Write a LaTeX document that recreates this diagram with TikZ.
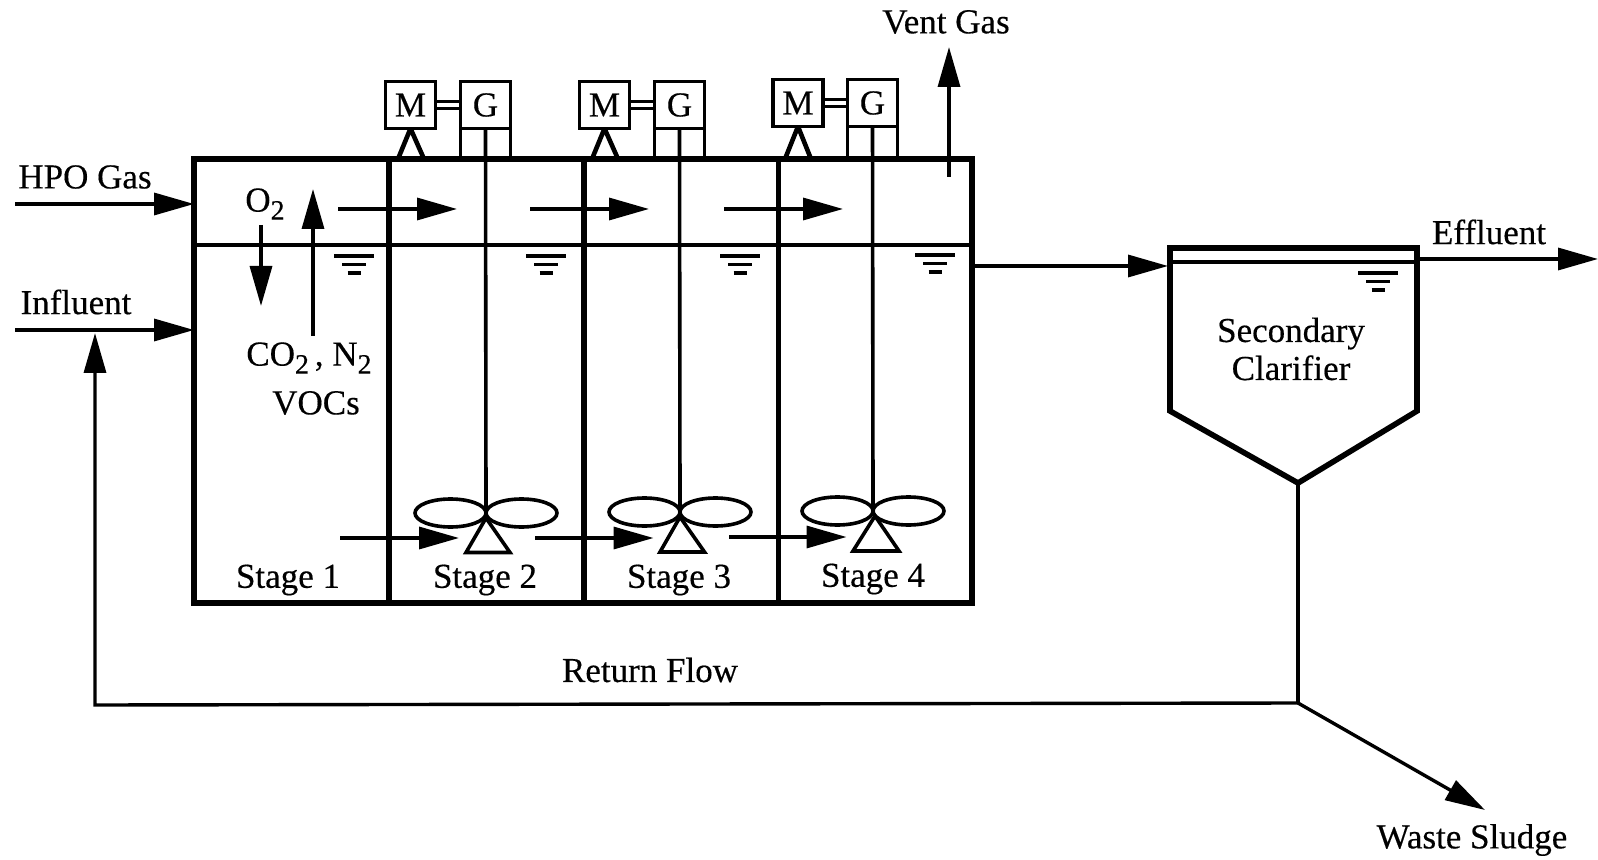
\documentclass[tikz,border=0pt]{standalone}
\usepackage{fontspec}
\setmainfont{Liberation Serif}[RawFeature={embolden=0.35}]
\usetikzlibrary{arrows.meta}
\newcommand{\lowtwo}{\raisebox{-0.5ex}{\fontsize{14}{14}\selectfont 2}}
\tikzset{
  wall/.style={line width=2.8pt,line join=miter},
  divider/.style={line width=2.6pt},
  stand/.style={line width=2.3pt,line join=bevel},
  thinline/.style={line width=1.8pt},
  flow/.style={line width=1.7pt,-{Triangle[length=20pt,width=11pt]}},
  unitbox/.style={draw,line width=1.8pt,inner sep=0pt,outer sep=0pt,minimum height=23.5pt},
  label/.style={inner sep=0pt,align=center},
  wlevel/.pic={
    \draw[thinline] (-20,0) -- (20,0);
    \draw[thinline] (-12,8.5) -- (12,8.5);
    \draw[thinline] (-6.5,17) -- (6.5,17);
  }
}
\begin{document}
\begin{tikzpicture}[x=0.5pt,y=-0.5pt,font=\fontsize{17.5}{21}\selectfont]
\useasboundingbox (0,0) rectangle (1598,860);
\node[draw,wall,inner sep=0pt,outer sep=0pt,minimum width=389pt,minimum height=222pt] (tank) at (583,381) {};
\draw[divider] (389,159) -- (389,603);
\draw[divider] (584,159) -- (584,603);
\draw[divider] (778.5,159) -- (778.5,603);
\draw[thinline] (194,245) -- (972,245);
\pic at (354,256) {wlevel};
\pic at (546,256) {wlevel};
\pic at (740,256) {wlevel};
\pic at (935,255) {wlevel};
\node[unitbox,minimum width=25pt] (M1) at (410.5,105) {M};
\node[unitbox,minimum width=25pt] (G1) at (485.5,105) {G};
\node[unitbox,minimum width=25pt] (M2) at (604.5,105) {M};
\node[unitbox,minimum width=25pt] (G2) at (679.5,105) {G};
\node[unitbox,minimum width=25pt] (M3) at (798,103) {M};
\node[unitbox,minimum width=25pt] (G3) at (872.5,103) {G};
\draw[thinline] ([yshift=1.75pt]M1.east) -- ([yshift=1.75pt]G1.west);
\draw[thinline] ([yshift=-1.75pt]M1.east) -- ([yshift=-1.75pt]G1.west);
\draw[thinline] ([yshift=1.75pt]M2.east) -- ([yshift=1.75pt]G2.west);
\draw[thinline] ([yshift=-1.75pt]M2.east) -- ([yshift=-1.75pt]G2.west);
\draw[thinline] ([yshift=1.75pt]M3.east) -- ([yshift=1.75pt]G3.west);
\draw[thinline] ([yshift=-1.75pt]M3.east) -- ([yshift=-1.75pt]G3.west);
\draw[stand] (398,159) -- (M1.south) -- (424,159);
\draw[stand] (592,159) -- (M2.south) -- (618,159);
\draw[stand] (785,159) -- (M3.south) -- (811,159);
\draw[thinline] (G1.south west) -- (G1.south west |- tank.north);
\draw[thinline] (G1.south east) -- (G1.south east |- tank.north);
\draw[thinline] (G2.south west) -- (G2.south west |- tank.north);
\draw[thinline] (G2.south east) -- (G2.south east |- tank.north);
\draw[thinline] (G3.south west) -- (G3.south west |- tank.north);
\draw[thinline] (G3.south east) -- (G3.south east |- tank.north);
\coordinate (imp1) at (486,513);
\coordinate (imp2) at (680,512);
\coordinate (imp3) at (873,511);
\draw[thinline] (G1.south) -- (imp1);
\draw[thinline] (G2.south) -- (imp2);
\draw[thinline] (G3.south) -- (imp3);
\draw[thinline] (450.5,513) ellipse [x radius=35.5,y radius=14];
\draw[thinline] (521.5,513) ellipse [x radius=35.5,y radius=14];
\draw[thinline] (644.5,512) ellipse [x radius=35.5,y radius=14];
\draw[thinline] (715.5,512) ellipse [x radius=35.5,y radius=14];
\draw[thinline] (837.5,511) ellipse [x radius=35.5,y radius=14];
\draw[thinline] (908.5,511) ellipse [x radius=35.5,y radius=14];
\draw[thinline] (486,518) -- (466,552.5) -- (510,552.5) -- cycle;
\draw[thinline] (680,517) -- (660,552) -- (704.5,552) -- cycle;
\draw[thinline] (875,516) -- (853,551) -- (899,551) -- cycle;
\coordinate (hpo) at (15,204);
\coordinate (influent) at (15,330);
\draw[flow] (hpo) -- (hpo -| tank.west);
\draw[flow] (influent) -- (influent -| tank.west);
\coordinate (gas1a) at (338,209); \coordinate (gas1b) at (457,209);
\coordinate (gas2a) at (530,209); \coordinate (gas2b) at (649,209);
\coordinate (gas3a) at (724,209); \coordinate (gas3b) at (843,209);
\draw[flow] (gas1a) -- (gas1b);
\draw[flow] (gas2a) -- (gas2b);
\draw[flow] (gas3a) -- (gas3b);
\coordinate (liq1a) at (340,538); \coordinate (liq1b) at (459,538);
\coordinate (liq2a) at (535,538); \coordinate (liq2b) at (653.5,538);
\coordinate (liq3a) at (729,537); \coordinate (liq3b) at (846.5,537);
\draw[flow] (liq1a) -- (liq1b);
\draw[flow] (liq2a) -- (liq2b);
\draw[flow] (liq3a) -- (liq3b);
\coordinate (downa) at (261,225); \coordinate (downb) at (261,306);
\coordinate (upa) at (313,336); \coordinate (upb) at (313,189);
\coordinate (venta) at (949,177); \coordinate (ventb) at (949,47);
\draw[flow] (downa) -- (downb);
\draw[flow] (upa) -- (upb);
\draw[flow] (venta) -- (ventb);
\coordinate (clarin) at (1168,266);
\coordinate (claro) at (1417,259);
\coordinate (clarapex) at (1298,483);
\coordinate (effend) at (1598,259);
\coordinate (junction) at (1298,703);
\coordinate (corner) at (95,705);
\coordinate (retend) at (95,333);
\coordinate (wasteend) at (1485,810);
\draw[wall] (1170,248) -- (1417,248) -- (1417,411) -- (clarapex) -- (1170,411) -- cycle;
\draw[thinline] (1170,262) -- (1417,262);
\pic at (1378,273) {wlevel};
\draw[flow] (tank.east |- clarin) -- (clarin);
\draw[flow] (claro) -- (effend);
\draw[thinline] (clarapex) -- (junction);
\draw[flow] (junction) -- (corner) -- (retend);
\draw[flow] (junction) -- (wasteend);
\node[label] (hpolabel) at (85,177) {HPO Gas};
\node[label] (influentlabel) at (76,302) {Influent};
\node[label] (ventlabel) at (946,22) {Vent Gas};
\node[label] (efflabel) at (1489,232) {Effluent};
\node[label] (oxy) at (265,204) {O\lowtwo};
\node[label] (co) at (309,358) {CO\lowtwo\,, N\lowtwo};
\node[label] (voc) at (316,403) {VOCs};
\node[label] (clarlabel) at (1291,349) {Secondary\\[-2pt]Clarifier};
\node[label] (stage1) at (288,580) {Stage 1};
\node[label] (stage2) at (485,580) {Stage 2};
\node[label] (stage3) at (679,580) {Stage 3};
\node[label] (stage4) at (873,579) {Stage 4};
\node[label] (retlabel) at (650,670) {Return Flow};
\node[label] (wastelabel) at (1472,840) {Waste Sludge};
\end{tikzpicture}
\end{document}
